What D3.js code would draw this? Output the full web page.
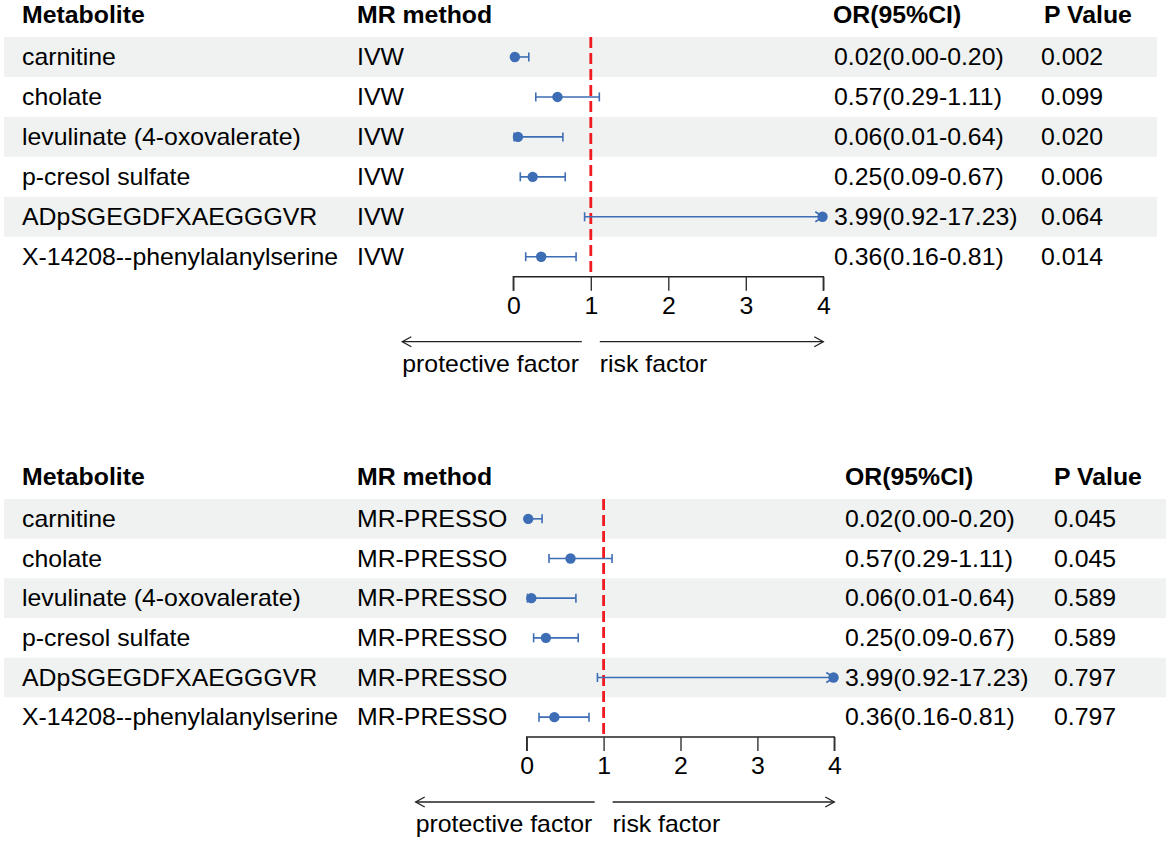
<!DOCTYPE html>
<html>
<head>
<meta charset="utf-8">
<script src="https://cdn.jsdelivr.net/npm/d3@7"></script>
<style>
  html, body { margin: 0; padding: 0; background: #fff; }
  svg { display: block; font-family: "Liberation Sans", Arial, sans-serif; }
</style>
</head>
<body>
<div id="chart"></div>
<script>
// Data
const metabolites = [
  "carnitine",
  "cholate",
  "levulinate (4-oxovalerate)",
  "p-cresol sulfate",
  "ADpSGEGDFXAEGGGVR",
  "X-14208--phenylalanylserine"
];
const orValues = [0.02, 0.57, 0.06, 0.25, 3.99, 0.36];
const ciLower = [0.00, 0.29, 0.01, 0.09, 0.92, 0.16];
const ciUpper = [0.20, 1.11, 0.64, 0.67, 17.23, 0.81];
const ivwP = ["0.002", "0.099", "0.020", "0.006", "0.064", "0.014"];
const pressoP = ["0.045", "0.045", "0.589", "0.589", "0.797", "0.797"];
const xTicks = [0, 1, 2, 3, 4];
const headers = ["Metabolite", "MR method", "OR(95%CI)", "P Value"];

const width = 1170, height = 842;
const fontSize = 23;
const stretch = 1.08; // the original text is a little wide for its height
const dotColor = "#3d6db4";
const bandColor = "#eff2f1";

const svg = d3.select("#chart").append("svg")
  .attr("width", width)
  .attr("height", height);

function fmt(v) { return v.toFixed(2); }

// put a text at (x, y), stretched horizontally from its anchor
function place(sel, x, y) {
  return sel.attr("transform", function (d, i) {
    const xx = typeof x === "function" ? x(d, i) : x;
    const yy = typeof y === "function" ? y(d, i) : y;
    return `translate(${xx},${yy}) scale(${stretch},1)`;
  });
}

function drawPanel(cfg) {
  const g = svg.append("g");
  const rows = metabolites.map((m, i) => ({
    name: m, method: cfg.method, or: orValues[i], lo: ciLower[i], hi: ciUpper[i], p: cfg.p[i]
  }));

  const x = d3.scaleLinear().domain([0, 4]).range(cfg.xRange);
  const y = d3.scaleBand().domain(metabolites).range([cfg.top, cfg.axisY]);
  const cy = d => y(d.name) + y.bandwidth() / 2;

  // shaded bands on alternate rows
  g.selectAll("rect.band")
    .data(rows.filter((d, i) => i % 2 === 0))
    .join("rect")
    .attr("x", 4)
    .attr("width", cfg.bandRight - 4)
    .attr("y", d => y(d.name))
    .attr("height", y.bandwidth())
    .attr("fill", bandColor);

  // header
  g.selectAll("text.head")
    .data(headers)
    .join("text")
    .call(place, (d, i) => cfg.headX[i], cfg.headY)
    .attr("dy", "0.35em")
    .attr("font-size", fontSize)
    .attr("font-weight", "bold")
    .attr("fill", "#000")
    .text(d => d);

  // table columns
  const cols = [
    d => d.name,
    d => d.method,
    d => `${fmt(d.or)}(${fmt(d.lo)}-${fmt(d.hi)})`,
    d => d.p
  ];
  cols.forEach((f, c) => {
    g.selectAll(`text.col${c}`)
      .data(rows)
      .join("text")
      .call(place, cfg.colX[c], cy)
      .attr("dy", "0.35em")
      .attr("font-size", fontSize)
      .attr("fill", "#000")
      .text(f);
  });

  // reference line at OR = 1
  g.append("line")
    .attr("x1", x(1)).attr("x2", x(1))
    .attr("y1", cfg.top).attr("y2", cfg.axisY)
    .attr("stroke", "#f01a1f")
    .attr("stroke-width", 2.8)
    .attr("stroke-dasharray", "11,5");

  // confidence intervals
  const xmax = x.domain()[1];
  g.selectAll("line.ci")
    .data(rows)
    .join("line")
    .attr("x1", d => x(Math.max(0, d.lo)))
    .attr("x2", d => x(Math.min(xmax, d.hi)))
    .attr("y1", cy).attr("y2", cy)
    .attr("stroke", dotColor)
    .attr("stroke-width", 1.6);

  // caps (or arrowheads when clipped)
  rows.forEach(d => {
    const yy = cy(d);
    [d.lo, d.hi].forEach(v => {
      if (v > xmax) {
        const xe = x(xmax);
        g.append("path")
          .attr("d", `M${xe - 8},${yy - 5}L${xe},${yy}L${xe - 8},${yy + 5}`)
          .attr("fill", "none")
          .attr("stroke", dotColor)
          .attr("stroke-width", 1.6);
      } else {
        g.append("line")
          .attr("x1", x(v)).attr("x2", x(v))
          .attr("y1", yy - 4.5).attr("y2", yy + 4.5)
          .attr("stroke", dotColor)
          .attr("stroke-width", 1.6);
      }
    });
  });

  // point estimates
  g.selectAll("circle.pt")
    .data(rows)
    .join("circle")
    .attr("cx", d => x(d.or))
    .attr("cy", cy)
    .attr("r", 5.2)
    .attr("fill", dotColor);

  // x axis
  const axis = g.append("g")
    .attr("transform", `translate(0,${cfg.axisY})`)
    .call(d3.axisBottom(x).tickValues(xTicks).tickSize(14).tickPadding(7).tickFormat(d3.format("d")));
  axis.select(".domain")
    .attr("d", `M${x(0)},14V0H${x(4)}V14`)
    .attr("stroke", "#222")
    .attr("stroke-width", 1.4);
  axis.selectAll(".tick line").attr("stroke", "#333").attr("stroke-width", 1.4);
  axis.selectAll(".tick text")
    .attr("font-size", fontSize)
    .attr("font-family", "Liberation Sans, Arial, sans-serif")
    .attr("fill", "#000")
    .attr("transform", `scale(${stretch},1)`)
    .attr("x", 0);

  // direction arrows
  const ay = cfg.axisY + 65;
  const leftStart = x(0) - 111, leftEnd = x(1) - 9, rightStart = x(1) + 9, rightEnd = x(4);
  const arrow = g.append("g").attr("stroke", "#222").attr("stroke-width", 1.3).attr("fill", "none");
  arrow.append("line").attr("x1", leftStart).attr("x2", leftEnd).attr("y1", ay).attr("y2", ay);
  arrow.append("path").attr("d", `M${leftStart + 9},${ay - 5}L${leftStart},${ay}L${leftStart + 9},${ay + 5}`);
  arrow.append("line").attr("x1", rightStart).attr("x2", rightEnd).attr("y1", ay).attr("y2", ay);
  arrow.append("path").attr("d", `M${rightEnd - 9},${ay - 5}L${rightEnd},${ay}L${rightEnd - 9},${ay + 5}`);

  g.append("text")
    .call(place, leftStart, ay + 30)
    .attr("font-size", fontSize).attr("fill", "#000")
    .text("protective factor");
  g.append("text")
    .call(place, rightStart, ay + 30)
    .attr("font-size", fontSize).attr("fill", "#000")
    .text("risk factor");
}

drawPanel({
  method: "IVW",
  p: ivwP,
  xRange: [513.3, 823.3],
  top: 37,
  axisY: 276.7,
  bandRight: 1157,
  headY: 15,
  headX: [22, 357, 833, 1044],
  colX: [22, 357, 834, 1041]
});

drawPanel({
  method: "MR-PRESSO",
  p: pressoP,
  xRange: [526.7, 834.3],
  top: 499,
  axisY: 737,
  bandRight: 1166,
  headY: 476.7,
  headX: [22, 357, 845, 1054],
  colX: [22, 357, 845, 1054]
});
</script>
</body>
</html>
